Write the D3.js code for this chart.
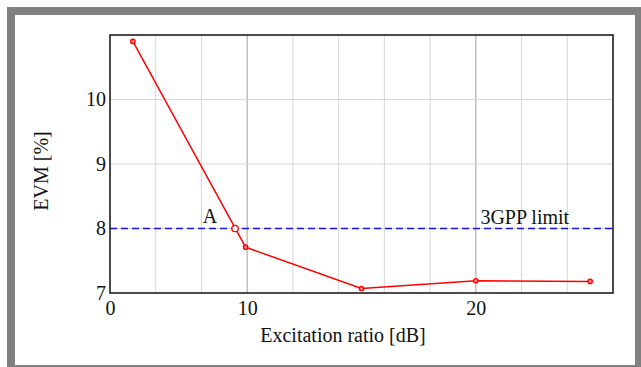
<!DOCTYPE html>
<html>
<head>
<meta charset="utf-8">
<script src="https://cdn.jsdelivr.net/npm/d3@7"></script>
<style>
  body { margin: 0; background: #fff; }
  svg text { font-family: "Liberation Serif", "Times New Roman", "DejaVu Serif", serif; fill: #111; }
</style>
</head>
<body>
<div id="chart"></div>
<script>
// data
const ratio = [5, 9.93, 15, 20, 25];          // excitation ratio [dB]
const evm = [10.9, 7.71, 7.07, 7.19, 7.18];   // EVM [%]
const pointA = { x: 9.47, y: 8.0, label: "A" };
const limit = { y: 8, label: "3GPP limit" };
const xTicks = [4, 10, 20];
const xTickLabels = ["0", "10", "20"];
const yTicks = [7, 8, 9, 10];
const xGrid = [6, 8, 10, 12, 14, 16, 18, 20, 22, 24];
const xMajorGrid = [10, 20];

const W = 641, H = 367;
const margin = { top: 35, right: 28, bottom: 74, left: 110 };
const width = W - margin.left - margin.right;
const height = H - margin.top - margin.bottom;
const serif = "'Liberation Serif', 'Times New Roman', serif";

const svg = d3.select("#chart").append("svg")
  .attr("width", W)
  .attr("height", H);

// gray frame round the figure
svg.append("rect")
  .attr("x", 11).attr("y", 11)
  .attr("width", 628).attr("height", 358)
  .attr("fill", "none")
  .attr("stroke", "#808080")
  .attr("stroke-width", 8);

const x = d3.scaleLinear().domain([4, 26]).range([0, width]);
const y = d3.scaleLinear().domain([7, 11]).range([height, 0]);

const g = svg.append("g")
  .attr("transform", `translate(${margin.left},${margin.top})`);

// grid lines
g.selectAll(".vgrid")
  .data(xGrid)
  .enter().append("line")
  .attr("x1", d => x(d)).attr("x2", d => x(d))
  .attr("y1", 0).attr("y2", height)
  .attr("stroke", d => xMajorGrid.includes(d) ? "#b4b4b4" : "#d6d6d6")
  .attr("stroke-width", d => xMajorGrid.includes(d) ? 1.3 : 1);

g.selectAll(".hgrid")
  .data(yTicks.slice(1))
  .enter().append("line")
  .attr("x1", 0).attr("x2", width)
  .attr("y1", d => y(d)).attr("y2", d => y(d))
  .attr("stroke", "#d6d6d6");

// 3GPP limit
g.append("line")
  .attr("x1", 0).attr("x2", width)
  .attr("y1", y(limit.y)).attr("y2", y(limit.y))
  .attr("stroke", "#1515e0")
  .attr("stroke-width", 1.5)
  .attr("stroke-dasharray", "7,4");

g.append("text")
  .attr("x", x(20.2))
  .attr("y", y(limit.y) - 5)
  .style("font-family", serif)
  .style("font-size", "20px")
  .text(limit.label);

// axes
const xAxis = d3.axisBottom(x)
  .tickValues(xTicks)
  .tickSize(0)
  .tickPadding(8)
  .tickFormat((d, i) => xTickLabels[i]);
const yAxis = d3.axisLeft(y)
  .tickValues(yTicks)
  .tickSize(0)
  .tickPadding(4)
  .tickFormat(d3.format("d"));

g.append("g")
  .attr("transform", `translate(0,${height})`)
  .call(xAxis)
  .call(a => a.select(".domain").remove())
  .selectAll("text")
  .attr("fill", "#111")
  .style("font-size", "20px")
  .style("font-family", serif);

g.append("g")
  .call(yAxis)
  .call(a => a.select(".domain").remove())
  .selectAll("text")
  .attr("fill", "#111")
  .style("font-size", "20px")
  .style("font-family", serif);

// plot frame
g.append("rect")
  .attr("width", width).attr("height", height)
  .attr("fill", "none")
  .attr("stroke", "#111")
  .attr("stroke-width", 1.5);

// series
const line = d3.line()
  .x((d, i) => x(ratio[i]))
  .y(d => y(d));

g.append("path")
  .datum(evm)
  .attr("d", line)
  .attr("fill", "none")
  .attr("stroke", "#ff0000")
  .attr("stroke-width", 1.5);

g.selectAll(".pt")
  .data(evm)
  .enter().append("circle")
  .attr("cx", (d, i) => x(ratio[i]))
  .attr("cy", d => y(d))
  .attr("r", 2.2)
  .attr("fill", "#ff8080")
  .attr("stroke", "#ff0000")
  .attr("stroke-width", 1.3);

// point A
g.append("circle")
  .attr("cx", x(pointA.x))
  .attr("cy", y(pointA.y))
  .attr("r", 3.2)
  .attr("fill", "#fff")
  .attr("stroke", "#ff0000")
  .attr("stroke-width", 1.3);

g.append("text")
  .attr("x", x(8.06))
  .attr("y", y(pointA.y) - 6)
  .style("font-family", serif)
  .style("font-size", "20px")
  .text(pointA.label);

// axis titles
svg.append("text")
  .attr("x", 343)
  .attr("y", 342)
  .attr("text-anchor", "middle")
  .style("font-family", serif)
  .style("font-size", "20px")
  .text("Excitation ratio [dB]");

svg.append("text")
  .attr("transform", `translate(48,171) rotate(-90)`)
  .attr("text-anchor", "middle")
  .style("font-family", serif)
  .style("font-size", "20px")
  .text("EVM [%]");
</script>
</body>
</html>
